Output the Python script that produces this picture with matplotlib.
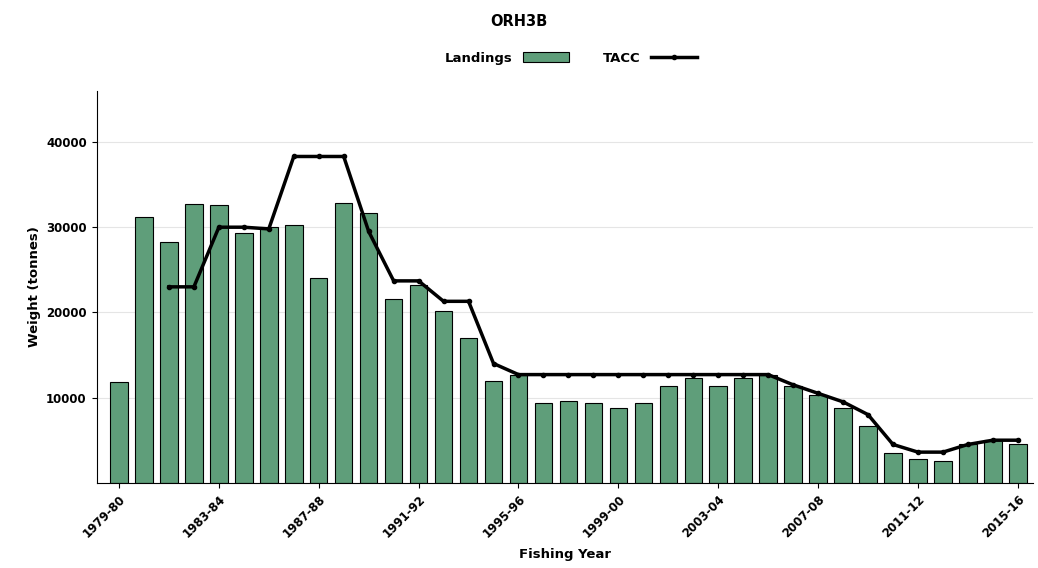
import matplotlib.pyplot as plt
import numpy as np

years = [f"{y}-{str(y + 1)[-2:]}" for y in range(1979, 2016)]
landings = [11800, 31200, 28300, 32700, 32600, 29300, 30000, 30300, 24000, 32800,
            31700, 21600, 23200, 20200, 17000, 12000, 12700, 9400, 9600, 9400,
            8800, 9400, 11400, 12300, 11400, 12300, 12700, 11400, 10300, 8800,
            6700, 3500, 2800, 2600, 4600, 5000, 4600]
tacc = [None, None, 23000, 23000, 30000, 30000, 29800, 38300, 38300, 38300,
        29500, 23700, 23700, 21300, 21300, 14000, 12700, 12700, 12700, 12700,
        12700, 12700, 12700, 12700, 12700, 12700, 12700, 11500, 10500, 9500,
        8000, 4500, 3600, 3600, 4500, 5000, 5000]

x = np.arange(len(years))
tx = [i for i, v in enumerate(tacc) if v is not None]
tv = [v for v in tacc if v is not None]

fig, ax = plt.subplots(figsize=(10.38, 5.68), dpi=100)
fig.subplots_adjust(left=0.093, right=0.995, top=0.84, bottom=0.15)
bars = ax.bar(x, landings, width=0.7, color="#5f9e7a", edgecolor="black", linewidth=0.8,
              label="Landings", zorder=2)
line, = ax.plot(tx, tv, color="black", lw=2.5, marker="o", markersize=3, label="TACC", zorder=3)

ax.set_xlim(-0.9, len(years) - 0.4)
ax.set_ylim(0, 46000)
ax.set_yticks([10000, 20000, 30000, 40000])
ax.set_xticks(x[::4])
ax.set_xticklabels(years[::4], rotation=45, ha="right", rotation_mode="anchor",
                   fontsize=8.5, fontweight="bold")
for t in ax.get_yticklabels():
    t.set_fontsize(8.5)
    t.set_fontweight("bold")
ax.grid(axis="y", color="#e5e5e5", lw=0.8, zorder=0)
ax.spines[["top", "right"]].set_visible(False)
ax.set_xlabel("Fishing Year", fontsize=9.5, fontweight="bold", labelpad=6)
ax.set_ylabel("Weight (tonnes)", fontsize=9.5, fontweight="bold")
fig.suptitle("ORH3B", fontsize=10.5, fontweight="bold", y=0.975)
fig.legend([bars, line], ["Landings", "TACC"], loc="upper center",
           bbox_to_anchor=(0.55, 0.93), ncol=2, frameon=False,
           markerfirst=False, prop={"weight": "bold", "size": 9.5},
           handlelength=3.5, columnspacing=2.5)
fig.savefig("out.png")
